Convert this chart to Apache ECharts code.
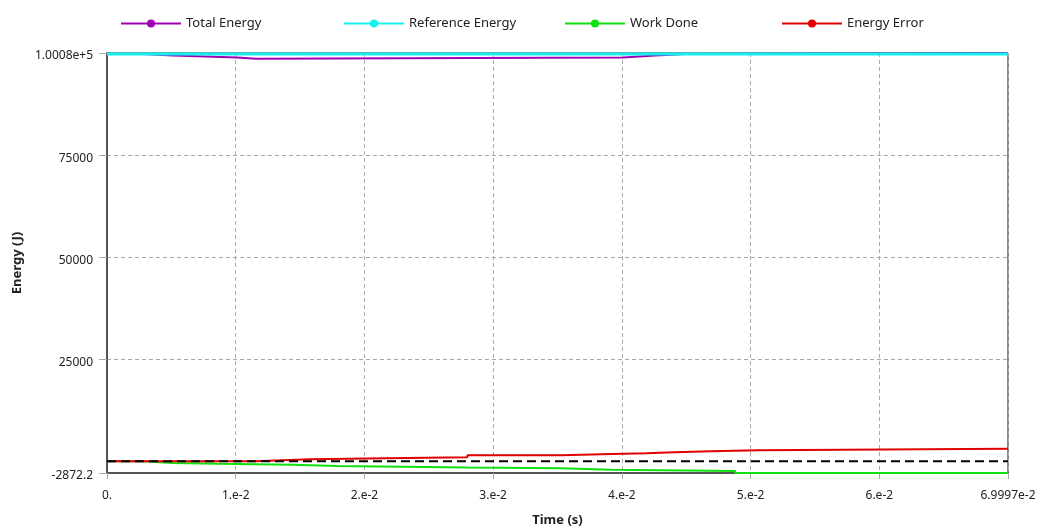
<!DOCTYPE html>
<html>
<head>
<meta charset="utf-8">
<style>
  html, body { margin: 0; padding: 0; background: #fff; }
  #chart { width: 1041px; height: 528px; }
</style>
<script src="https://cdn.jsdelivr.net/npm/echarts@6/dist/echarts.min.js"></script>
</head>
<body>
<div id="chart"></div>
<script>
// Axis ticks and their printed labels
const timeTicks = [0, 0.01, 0.02, 0.03, 0.04, 0.05, 0.06, 0.069997];
const timeTickLabels = ['0.', '1.e-2', '2.e-2', '3.e-2', '4.e-2', '5.e-2', '6.e-2', '6.9997e-2'];
const energyTicks = [-2872.2, 25000, 50000, 75000, 100080];
const energyTickLabels = ['-2872.2', '25000', '50000', '75000', '1.0008e+5'];

// Energy histories (J) against time (s); each value holds until the next time
const totalTime = [0, 0.0028, 0.0051, 0.0101, 0.0116, 0.0401, 0.0426, 0.0449, 0.069997];
const totalEnergy = [99840, 99450, 99000, 98700, 99000, 99450, 99840, 100080, 100080];

const referenceTime = [0, 0.069997];
const referenceEnergy = [99840, 99840];

const workTime = [0, 0.0027, 0.0051, 0.0086, 0.0144, 0.0179, 0.0280, 0.0353, 0.0392, 0.0488, 0.069997];
const workDone = [0, -420, -600, -840, -1160, -1500, -1720, -2060, -2380, -2872.2, -2872.2];

const errorTime = [0, 0.0115, 0.0158, 0.0217, 0.0280, 0.0353, 0.0392, 0.0419, 0.0441, 0.0469, 0.0506, 0.069997];
const energyError = [0, 480, 730, 970, 1470, 1790, 1960, 2200, 2450, 2690, 3080, 3080];

const zeroTime = [0, 0.069997];
const zeroLevel = [0, 0];

const FONT = 'Noto Sans';

function pairs(xs, ys) {
  return xs.map((x, i) => [x, ys[i]]);
}

function stepSeries(name, xs, ys, color, width) {
  return {
    name: name,
    type: 'line',
    step: 'end',
    data: pairs(xs, ys),
    symbol: 'circle',
    symbolSize: 8,
    showSymbol: false,
    lineStyle: { color: color, width: width },
    itemStyle: { color: color },
    clip: false
  };
}

function legendAt(name, left) {
  return {
    data: [name],
    left: left,
    top: 17,
    padding: 0,
    itemWidth: 60,
    itemHeight: 10,
    itemGap: 5,
    textStyle: { fontFamily: FONT, fontSize: 13, color: '#222' }
  };
}

const gridLine = { show: true, lineStyle: { color: '#aaaaaa', width: 1, type: [4, 3] } };

const chart = echarts.init(document.getElementById('chart'), null, { renderer: 'canvas' });
chart.setOption({
  animation: false,
  backgroundColor: '#fff',
  legend: [
    legendAt('Total Energy', 120),
    legendAt('Reference Energy', 343),
    legendAt('Work Done', 564),
    legendAt('Energy Error', 781)
  ],
  grid: {
    left: 107, right: 33, top: 53, bottom: 55,
    outerBoundsMode: 'none',
    containLabel: false,
    show: true, borderColor: '#111', borderWidth: 1, backgroundColor: 'transparent'
  },
  xAxis: {
    type: 'value',
    min: 0,
    max: 0.069997,
    name: 'Time (s)',
    nameLocation: 'middle',
    nameGap: 41,
    nameTextStyle: { fontFamily: FONT, fontSize: 13, fontWeight: 'bold', color: '#222' },
    axisLine: { show: true, onZero: false, lineStyle: { color: '#555', width: 2 } },
    axisTick: { show: true, length: 6, customValues: timeTicks, lineStyle: { color: '#aaa' } },
    axisLabel: {
      customValues: timeTicks,
      margin: 17,
      fontFamily: FONT, fontSize: 12, color: '#222',
      formatter: (v) => timeTickLabels[timeTicks.indexOf(v)] ?? ''
    },
    splitLine: gridLine
  },
  yAxis: {
    type: 'value',
    min: -2872.2,
    max: 100080,
    name: 'Energy (J)',
    nameLocation: 'middle',
    nameGap: 78,
    nameTextStyle: { fontFamily: FONT, fontSize: 13, fontWeight: 'bold', color: '#222' },
    axisLine: { show: true, onZero: false, lineStyle: { color: '#555', width: 2 } },
    axisTick: { show: true, length: 8, customValues: energyTicks, lineStyle: { color: '#aaa' } },
    axisLabel: {
      customValues: energyTicks,
      margin: 14,
      verticalAlign: 'top',
      lineHeight: 6,
      fontFamily: FONT, fontSize: 12, color: '#222',
      formatter: (v) => energyTickLabels[energyTicks.indexOf(v)] ?? ''
    },
    splitLine: gridLine
  },
  series: [
    stepSeries('Total Energy', totalTime, totalEnergy, '#a000b4', 2),
    stepSeries('Reference Energy', referenceTime, referenceEnergy, '#14f0f0', 3),
    stepSeries('Work Done', workTime, workDone, '#10e010', 2),
    stepSeries('Energy Error', errorTime, energyError, '#e00000', 2),
    {
      name: 'zero',
      type: 'line',
      data: pairs(zeroTime, zeroLevel),
      symbol: 'none',
      lineStyle: { color: '#000', width: 2, type: [9, 5] },
      z: 5
    }
  ]
});
</script>
</body>
</html>
